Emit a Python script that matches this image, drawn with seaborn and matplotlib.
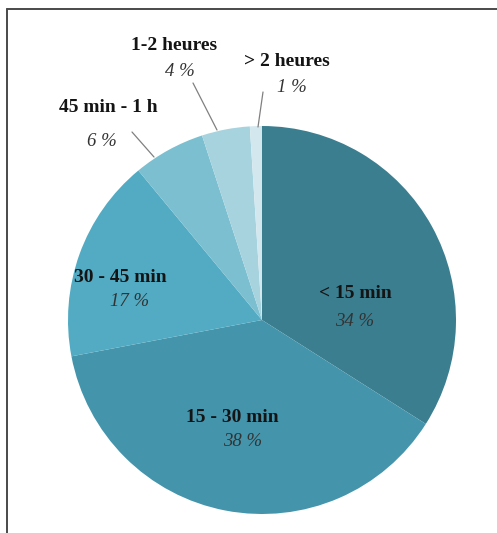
import matplotlib
matplotlib.use('Agg')
import matplotlib.pyplot as plt
import seaborn as sns

# data
categories = ['< 15 min', '15 - 30 min', '30 - 45 min', '45 min - 1 h', '1-2 heures', '> 2 heures']
shares = [34, 38, 17, 6, 4, 1]
pct_labels = ['34 %', '38 %', '17 %', '6 %', '4 %', '1 %']
colors = ['#3a7e90', '#4494ac', '#52abc2', '#7cbfd1', '#a7d3df', '#d3e8ee']

sns.set_theme(style='white')
plt.rcParams['font.family'] = ['Liberation Serif', 'DejaVu Serif']

W, H = 497, 533
fig = plt.figure(figsize=(W / 100, H / 100), dpi=100)
ax = fig.add_axes([0, 0, 1, 1])

# pie geometry in pixels
cx, cy, R = 262, 320, 194

ax.pie(shares, colors=colors, startangle=90, counterclock=False,
       wedgeprops=dict(linewidth=0))
ax.set_xlim(-cx / R, (W - cx) / R)
ax.set_ylim(-(H - cy) / R, cy / R)
ax.axis('off')


def px(x, y):
    return (x - cx) / R, (cy - y) / R


# label positions (pixel centres of name / percentage)
label_pos = [((355, 294), (355, 321)),
             ((232, 417), (243, 442)),
             ((120, 277), (130, 301)),
             ((108, 108), (102, 141)),
             ((174, 45), (180, 72)),
             ((287, 62), (292, 87))]

for name, pct, (p_name, p_pct) in zip(categories, pct_labels, label_pos):
    ax.text(*px(*p_name), name, ha='center', va='center', fontsize=14,
            fontweight='bold', color='#141414')
    ax.text(*px(*p_pct), pct, ha='center', va='center', fontsize=13.5,
            fontstyle='italic', color='#333333')

# leader lines for the small slices
leaders = [((132, 132), (154, 157)),
           ((193, 83), (217, 130)),
           ((263, 92), (258, 127))]
for (x0, y0), (x1, y1) in leaders:
    a, b = px(x0, y0)
    c, d = px(x1, y1)
    ax.plot([a, c], [b, d], color='#808080', lw=0.9)

# partial frame (top and left edges)
fig.add_artist(plt.Line2D([7 / W, 1], [1 - 9 / H, 1 - 9 / H], transform=fig.transFigure,
                          color='#4a4a4a', lw=1.4))
fig.add_artist(plt.Line2D([7 / W, 7 / W], [0, 1 - 9 / H], transform=fig.transFigure,
                          color='#4a4a4a', lw=1.4))

fig.savefig('out.png', dpi=100, facecolor='white')
